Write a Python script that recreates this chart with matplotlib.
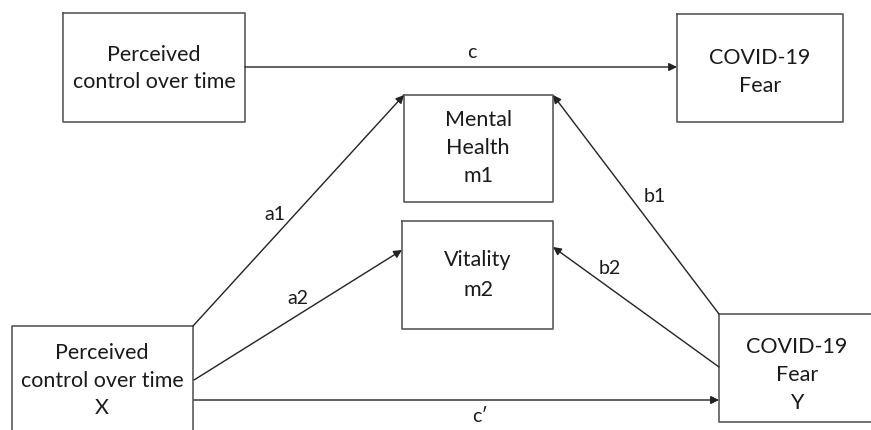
"""Serial mediation path diagram: perceived control over time -> COVID-19 fear."""

import matplotlib

matplotlib.use("Agg")
import matplotlib.pyplot as plt

plt.rcParams["font.family"] = ["Lato", "DejaVu Sans"]

# node texts
node_names = ["top_x", "top_y", "m1", "m2", "x", "y"]
node_texts = [
    ["Perceived", "control over time"],
    ["COVID-19", "Fear"],
    ["Mental", "Health", "m1"],
    ["Vitality", "m2"],
    ["Perceived", "control over time", "X"],
    ["COVID-19", "Fear", "Y"],
]

# paths between nodes and their labels
path_sources = ["top_x", "x", "x", "y", "y", "x"]
path_targets = ["top_y", "m1", "m2", "m1", "m2", "y"]
path_labels = ["c", "a1", "a2", "b1", "b2", "c\u2032"]

# layout in pixel space (x0, y0, x1, y1), y grows downward
boxes = {
    "top_x": (63, 13, 245, 122),
    "top_y": (677, 14, 843, 122),
    "m1": (404, 95, 553, 202),
    "m2": (402, 221, 553, 329),
    "x": (12, 326, 193, 445),
    "y": (719, 314, 900, 422),
}
text_rows = {
    "top_x": [55, 82],
    "top_y": [58, 86],
    "m1": [120, 148, 176],
    "m2": [260, 290],
    "x": [353, 381, 408],
    "y": [347, 375, 403],
}
text_cx = {"top_x": 154, "top_y": 760, "m1": 478, "m2": 478, "x": 102, "y": 797}

# arrow endpoints (start, end) and label anchors
arrow_pts = [
    ((245, 67), (677, 67)),
    ((193, 326), (404, 95)),
    ((194, 380), (402, 250)),
    ((719, 314), (553, 95)),
    ((719, 367), (553, 247)),
    ((194, 400), (719, 400)),
]
label_pos = [(472, 53), (275, 215), (298, 298), (655, 197), (610, 268), (480, 417)]

W, H = 871, 430

fig = plt.figure(figsize=(8.71, 4.30), dpi=100)
ax = fig.add_axes([0, 0, 1, 1])
ax.set_xlim(0, W)
ax.set_ylim(H, 0)
ax.axis("off")

for name, lines in zip(node_names, node_texts):
    x0, y0, x1, y1 = boxes[name]
    # boxes cut by the canvas edge stay open on that side
    if x1 > W:
        xs, ys = [x1, x0, x0, x1], [y0, y0, y1, y1]
    elif y1 > H:
        xs, ys = [x0, x0, x1, x1], [y1, y0, y0, y1]
    else:
        xs, ys = [x0, x1, x1, x0, x0], [y0, y0, y1, y1, y0]
    ax.plot(xs, ys, color="#5a5a5a", linewidth=1.2, zorder=1)
    for text, ty in zip(lines, text_rows[name]):
        ax.text(text_cx[name], ty, text, ha="center", va="center",
                fontsize=15.5, color="#1a1a1a", zorder=3)

for (start, end), label, lpos in zip(arrow_pts, path_labels, label_pos):
    ax.annotate(
        "", xy=end, xytext=start,
        arrowprops=dict(arrowstyle="-|>", color="#222222", lw=1.0,
                        mutation_scale=12, shrinkA=0, shrinkB=0),
        zorder=2,
    )
    ax.text(lpos[0], lpos[1], label, ha="center", va="center",
            fontsize=14, color="#1a1a1a")

fig.savefig("out.png", dpi=100, facecolor="white")
plt.close(fig)
